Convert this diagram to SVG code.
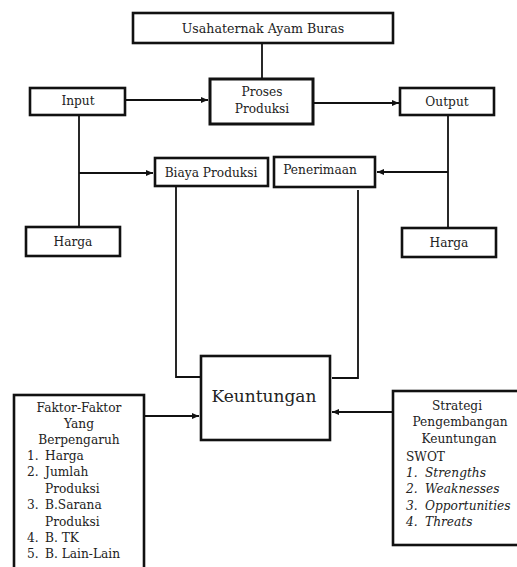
<svg xmlns="http://www.w3.org/2000/svg" width="517" height="567" viewBox="0 0 517 567">
<defs>
<marker id="ah" markerWidth="8" markerHeight="8" refX="7" refY="4" orient="auto" markerUnits="userSpaceOnUse">
<path d="M0,1 L7,4 L0,7 Z" fill="#111"/>
</marker>
<style>
.box{fill:#fff;stroke:#111;stroke-width:2.6}
.ln{fill:none;stroke:#111;stroke-width:1.8}
text{font-family:"DejaVu Serif","Liberation Serif",serif;font-size:12.2px;fill:#222}
.c{text-anchor:middle}
.i{font-style:italic}
</style>
</defs>
<g id="connectors">
<line class="ln" x1="262" y1="43" x2="262" y2="79"/>
<line class="ln" x1="125" y1="100" x2="208" y2="100" marker-end="url(#ah)"/>
<line class="ln" x1="313" y1="103" x2="399" y2="103" marker-end="url(#ah)"/>
<line class="ln" x1="79" y1="115" x2="79" y2="227"/>
<line class="ln" x1="79" y1="173" x2="153" y2="173" marker-end="url(#ah)"/>
<line class="ln" x1="448" y1="115" x2="448" y2="228"/>
<line class="ln" x1="448" y1="172" x2="377" y2="172" marker-end="url(#ah)"/>
<polyline class="ln" points="176,186 176,377 201,377"/>
<polyline class="ln" points="358,190 358,378 332,378"/>
<line class="ln" x1="144" y1="416" x2="199" y2="416" marker-end="url(#ah)"/>
<line class="ln" x1="393" y1="412" x2="332" y2="412" marker-end="url(#ah)"/>
</g>
<g id="usahaternak">
<rect class="box" x="133" y="13" width="260" height="30"/>
<text class="c" x="263" y="33" style="font-size:12.6px">Usahaternak Ayam Buras</text>
</g>
<g id="proses">
<rect class="box" x="210" y="79" width="103" height="45" style="stroke-width:3"/>
<text class="c" x="262" y="96">Proses</text>
<text class="c" x="262" y="113">Produksi</text>
</g>
<g id="input">
<rect class="box" x="30" y="88" width="95" height="27"/>
<text class="c" x="78" y="105">Input</text>
</g>
<g id="output">
<rect class="box" x="400" y="88" width="94" height="27"/>
<text class="c" x="447" y="106">Output</text>
</g>
<g id="biaya">
<rect class="box" x="155" y="158" width="113" height="28"/>
<text class="c" x="211" y="177">Biaya Produksi</text>
</g>
<g id="penerimaan">
<rect class="box" x="274" y="157" width="101" height="30"/>
<text class="c" x="320" y="174">Penerimaan</text>
</g>
<g id="harga-kiri">
<rect class="box" x="26" y="227" width="94" height="29"/>
<text class="c" x="73" y="246">Harga</text>
</g>
<g id="harga-kanan">
<rect class="box" x="402" y="228" width="94" height="29"/>
<text class="c" x="449" y="247">Harga</text>
</g>
<g id="keuntungan">
<rect class="box" x="201" y="356" width="129" height="84"/>
<text class="c" x="264" y="402" style="font-size:17px">Keuntungan</text>
</g>
<g id="faktor">
<rect class="box" x="14" y="395" width="130" height="180"/>
<text class="c" x="79" y="412">Faktor-Faktor</text>
<text class="c" x="79" y="428">Yang</text>
<text class="c" x="79" y="444">Berpengaruh</text>
<text x="27" y="460">1.</text><text x="45" y="460">Harga</text>
<text x="27" y="476">2.</text><text x="45" y="476">Jumlah</text>
<text x="45" y="493">Produksi</text>
<text x="27" y="509">3.</text><text x="45" y="509">B.Sarana</text>
<text x="45" y="526">Produksi</text>
<text x="27" y="542">4.</text><text x="45" y="542">B. TK</text>
<text x="27" y="558">5.</text><text x="45" y="558">B. Lain-Lain</text>
</g>
<g id="strategi">
<rect class="box" x="393" y="391" width="130" height="154"/>
<text class="c" x="457" y="410">Strategi</text>
<text class="c" x="460" y="426">Pengembangan</text>
<text class="c" x="459" y="443">Keuntungan</text>
<text x="406" y="461">SWOT</text>
<text class="i" x="406" y="477">1.</text><text class="i" x="425" y="477">Strengths</text>
<text class="i" x="406" y="493">2.</text><text class="i" x="425" y="493">Weaknesses</text>
<text class="i" x="406" y="510">3.</text><text class="i" x="425" y="510">Opportunities</text>
<text class="i" x="406" y="526">4.</text><text class="i" x="425" y="526">Threats</text>
</g>
</svg>
